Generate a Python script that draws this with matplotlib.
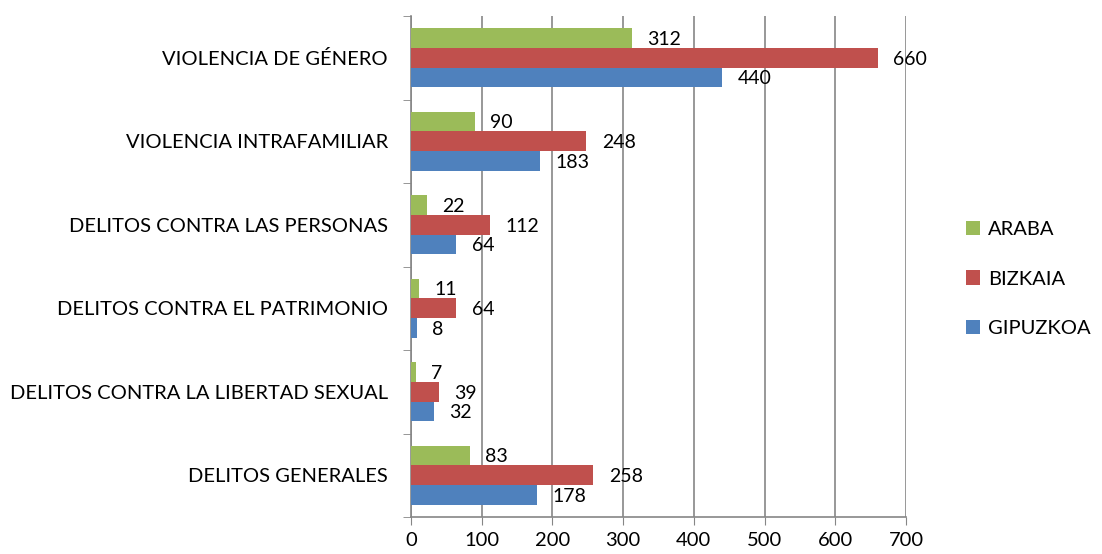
import matplotlib
matplotlib.use("Agg")
import matplotlib.pyplot as plt
import numpy as np

plt.rcParams['font.family'] = ['Lato', 'DejaVu Sans']

# datos (de abajo hacia arriba)
categorias = ['DELITOS GENERALES', 'DELITOS CONTRA LA LIBERTAD SEXUAL',
              'DELITOS CONTRA EL PATRIMONIO', 'DELITOS CONTRA LAS PERSONAS',
              'VIOLENCIA INTRAFAMILIAR', 'VIOLENCIA DE GÉNERO']
gipuzkoa = [178, 32, 8, 64, 183, 440]
bizkaia = [258, 39, 64, 112, 248, 660]
araba = [83, 7, 11, 22, 90, 312]

series = [('GIPUZKOA', gipuzkoa, '#4F81BD'),
          ('BIZKAIA', bizkaia, '#C0504D'),
          ('ARABA', araba, '#9BBB59')]

fig = plt.figure(figsize=(11.02, 5.54), dpi=100)
ax = fig.add_axes([411 / 1102, 1 - 517 / 554, 495 / 1102, 501 / 554])

y = np.arange(len(categorias))
h = 0.237
for i, (nombre, vals, color) in enumerate(series):
    pos = y + (i - 1) * h
    ax.barh(pos, vals, height=h, color=color, label=nombre, zorder=3)
    for p, v in zip(pos, vals):
        ax.annotate(str(v), (v, p), xytext=(11, -1), textcoords='offset points',
                    va='center', ha='left', fontsize=14, color='black', zorder=4)

ax.set_xlim(0, 700)
ax.set_ylim(-0.5, len(categorias) - 0.5)
ax.set_xticks(range(0, 701, 100))
ax.tick_params(axis='x', labelsize=14.5, length=6, color='#868686', pad=5)

# etiquetas de categoría sin tick, ticks en los límites
ax.set_yticks(y)
ax.set_yticklabels(categorias, fontsize=14.5)
ax.tick_params(axis='y', length=0, pad=16.5)
ax.set_yticks(np.arange(-0.5, len(categorias), 1), minor=True)
ax.tick_params(axis='y', which='minor', length=6, color='#868686')

ax.grid(axis='x', color='#868686', linewidth=1.2, zorder=0)
for s in ['top', 'right']:
    ax.spines[s].set_visible(False)
for s in ['left', 'bottom']:
    ax.spines[s].set_color('#868686')
    ax.spines[s].set_linewidth(1.2)

handles, labels = ax.get_legend_handles_labels()
fig.legend(handles[::-1], labels[::-1], loc='center left',
           bbox_to_anchor=(948 / 1102, 1 - 279 / 554), frameon=False,
           fontsize=14.5, handlelength=0.7, handleheight=0.7, labelspacing=1.6,
           handletextpad=0.4)

fig.savefig('out.png', dpi=100)
